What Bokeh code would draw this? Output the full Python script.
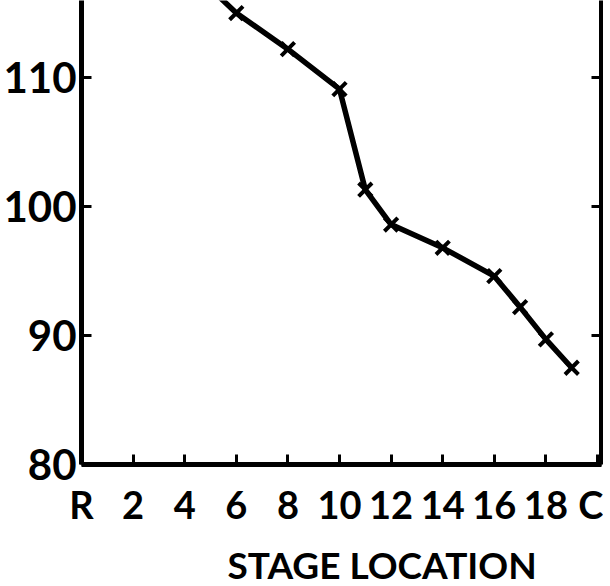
from bokeh.plotting import figure
from bokeh.models import FixedTicker, LinearAxis, Range1d, Title
from bokeh.embed import file_html
from bokeh.resources import INLINE

# data
stages = [4, 6, 8, 10, 11, 12, 14, 16, 17, 18, 19]
values = [118.8, 115.0, 112.2, 109.1, 101.3, 98.6, 96.8, 94.6, 92.2, 89.7, 87.5]
x_ticks = [0, 2, 4, 6, 8, 10, 12, 14, 16, 18, 20]
x_tick_labels = ["R", "2", "4", "6", "8", "10", "12", "14", "16", "18", "C"]
y_ticks = [80, 90, 100, 110]
x_title = "STAGE LOCATION"

FONT = "Lato"

p = figure(frame_width=520, frame_height=464,
           x_range=Range1d(0, 20.155), y_range=Range1d(80, 115.97),
           output_backend="svg", toolbar_location=None,
           min_border_left=79, min_border_top=0, min_border_right=2,
           min_border_bottom=115)
p.outline_line_color = None
p.background_fill_color = "white"
p.border_fill_color = "white"
p.xgrid.visible = False
p.ygrid.visible = False

for ax in p.xaxis:
    ax.ticker = FixedTicker(ticks=x_ticks)
    ax.major_label_overrides = {t: l for t, l in zip(x_ticks, x_tick_labels)}
    ax.axis_line_width = 5
    ax.axis_line_color = "black"
    ax.major_tick_in = 10
    ax.major_tick_out = 0
    ax.major_tick_line_width = 3
    ax.minor_tick_line_color = None
    ax.major_label_text_font = FONT
    ax.major_label_text_font_style = "bold"
    ax.major_label_text_font_size = "38px"
    ax.major_label_text_color = "black"
    ax.major_label_standoff = 16

for ax in p.yaxis:
    ax.ticker = FixedTicker(ticks=y_ticks)
    ax.axis_line_width = 5
    ax.axis_line_color = "black"
    ax.major_tick_in = 10
    ax.major_tick_out = 0
    ax.major_tick_line_width = 3
    ax.minor_tick_line_color = None
    ax.major_label_text_font = FONT
    ax.major_label_text_font_style = "bold"
    ax.major_label_text_font_size = "42px"
    ax.major_label_text_color = "black"
    ax.major_label_standoff = 5

right = LinearAxis(ticker=FixedTicker(ticks=y_ticks))
right.axis_line_width = 5
right.major_tick_in = 10
right.major_tick_out = 0
right.major_tick_line_width = 3
right.minor_tick_line_color = None
right.major_label_text_font_size = "1px"
right.major_label_text_color = None
right.major_label_standoff = 0
p.add_layout(right, "right")

p.line(stages, values, line_width=5.5, line_color="black")
p.scatter(stages, values, marker="x", size=19, line_width=4, line_color="black")

title = Title(text=x_title, align="left", offset=146, text_font=FONT,
              text_font_style="bold", text_font_size="37px", text_color="black",
              standoff=20)
p.add_layout(title, "below")

open("out.html", "w").write(file_html(p, INLINE))
